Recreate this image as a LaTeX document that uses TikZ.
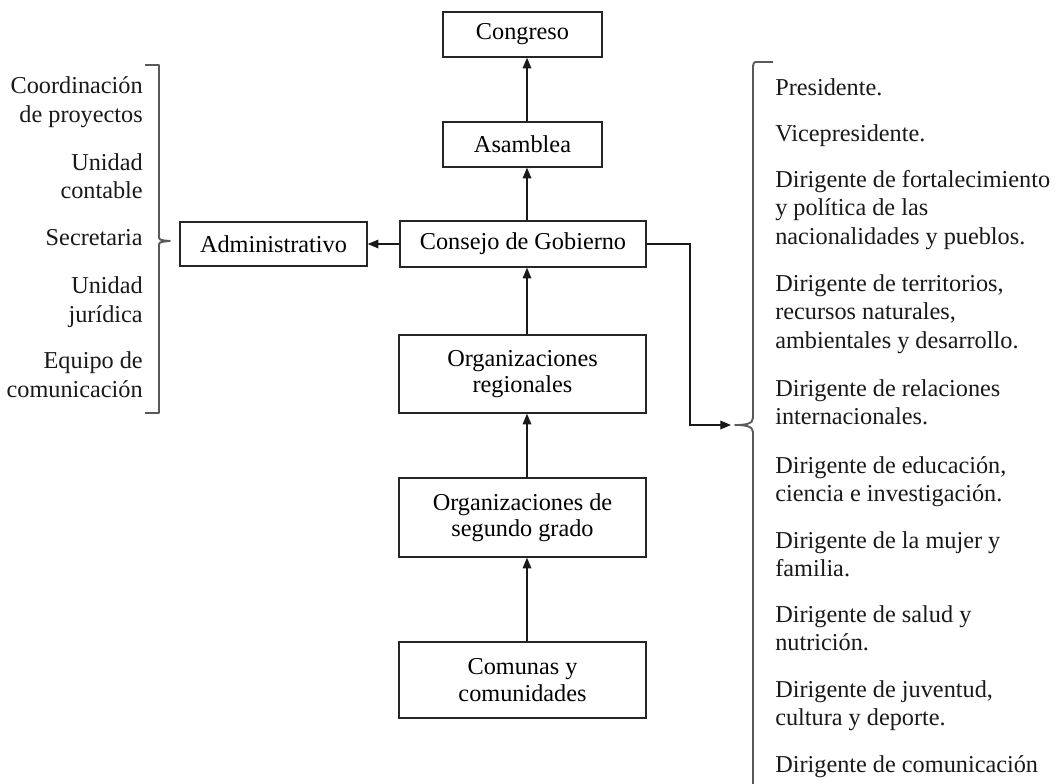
\documentclass[tikz,border=0pt]{standalone}
\usepackage{fontspec}
\setmainfont{Liberation Serif}
\usetikzlibrary{arrows.meta}
\newcommand\dfont{\fontsize{18.2pt}{19.8pt}\selectfont}
\begin{document}
\begin{tikzpicture}[x=0.75pt,y=-0.75pt,
  box/.style={draw=black!85,line width=1.1pt,inner sep=0pt,align=center,font=\dfont},
  conn/.style={line width=0.9pt,draw=black!90,-{Triangle[length=8pt,width=6.5pt]}},
  brace/.style={line width=1.4pt,draw=black!65,line join=round},
  lt/.style={anchor=base west,inner sep=0pt,font=\dfont,text=black!90},
  rt/.style={anchor=base east,inner sep=0pt,font=\dfont,text=black!90}]
\useasboundingbox (0,0) rectangle (1057,783);
\fill[white] (0,0) rectangle (1057,783);

% boxes
\node[box,minimum width=119.25pt,minimum height=33.75pt] (congreso) at (522.5,34.5) {Congreso};
\node[box,minimum width=119.25pt,minimum height=33.75pt] (asamblea) at (522.5,144.5) {Asamblea};
\node[box,minimum width=184.5pt,minimum height=34.5pt] (consejo) at (523,244) {Consejo de Gobierno};
\node[box,minimum width=140.25pt,minimum height=33pt] (admin) at (273.5,244) {Administrativo};
\node[box,minimum width=185.25pt,minimum height=58.5pt] (regionales) at (522.5,374) {Organizaciones\\regionales};
\node[box,minimum width=185.25pt,minimum height=59.25pt] (segundo) at (522.5,517.5) {Organizaciones de\\segundo grado};
\node[box,minimum width=185.25pt,minimum height=57pt] (comunas) at (522.5,680) {Comunas y\\comunidades};

% vertical spine
\coordinate (sp) at (527,0);
\draw[conn] (comunas.north -| sp) -- (segundo.south -| sp);
\draw[conn] (segundo.north -| sp) -- (regionales.south -| sp);
\draw[conn] (regionales.north -| sp) -- (consejo.south -| sp);
\draw[conn] (consejo.north -| sp) -- (asamblea.south -| sp);
\draw[conn] (asamblea.north -| sp) -- (congreso.south -| sp);
\draw[conn] (consejo.west) -- (admin.east);

% connector to right brace
\coordinate (elbow) at (690,425);
\coordinate (btip) at (731,425);
\draw[conn] (consejo.east) -| (elbow) -- (btip);

% left brace
\draw[brace] (145,65) -- (159,65) -- (159,236) .. controls (159,240) .. (170,241)
  .. controls (159,242) .. (159,246) -- (159,413) -- (145,413);

% right brace
\draw[brace] (773,62) -- (758,62) .. controls (754,62) .. (753,66) -- (753,418)
  .. controls (753,424) and (745,425) .. (735,425)
  .. controls (745,425) and (753,426) .. (753,432) -- (753,790);

% left list
\node[rt] (l1a) at (143,93) {Coordinación};
\node[rt] (l1b) at (143,122) {de proyectos};
\node[rt] (l2a) at (143,170) {Unidad};
\node[rt] (l2b) at (143,198) {contable};
\node[rt] (l3a) at (143,245) {Secretaria};
\node[rt] (l4a) at (143,293) {Unidad};
\node[rt] (l4b) at (143,322) {jurídica};
\node[rt] (l5a) at (143,368) {Equipo de};
\node[rt] (l5b) at (143,397) {comunicación};

% right list
\node[lt] (r1) at (775,95) {Presidente.};
\node[lt] (r2) at (775,141) {Vicepresidente.};
\node[lt] (r3a) at (775,187) {Dirigente de fortalecimiento};
\node[lt] (r3b) at (775,215.5) {y política de las};
\node[lt] (r3c) at (775,244) {nacionalidades y pueblos.};
\node[lt] (r4a) at (775,291) {Dirigente de territorios,};
\node[lt] (r4b) at (775,319.5) {recursos naturales,};
\node[lt] (r4c) at (775,348) {ambientales y desarrollo.};
\node[lt] (r5a) at (775,396) {Dirigente de relaciones};
\node[lt] (r5b) at (775,424.5) {internacionales.};
\node[lt] (r6a) at (775,473) {Dirigente de educación,};
\node[lt] (r6b) at (775,501.5) {ciencia e investigación.};
\node[lt] (r7a) at (775,548) {Dirigente de la mujer y};
\node[lt] (r7b) at (775,576.5) {familia.};
\node[lt] (r8a) at (775,622) {Dirigente de salud y};
\node[lt] (r8b) at (775,650.5) {nutrición.};
\node[lt] (r9a) at (775,697) {Dirigente de juventud,};
\node[lt] (r9b) at (775,725.5) {cultura y deporte.};
\node[lt] (r10a) at (775,772.5) {Dirigente de comunicación};
\end{tikzpicture}
\end{document}
